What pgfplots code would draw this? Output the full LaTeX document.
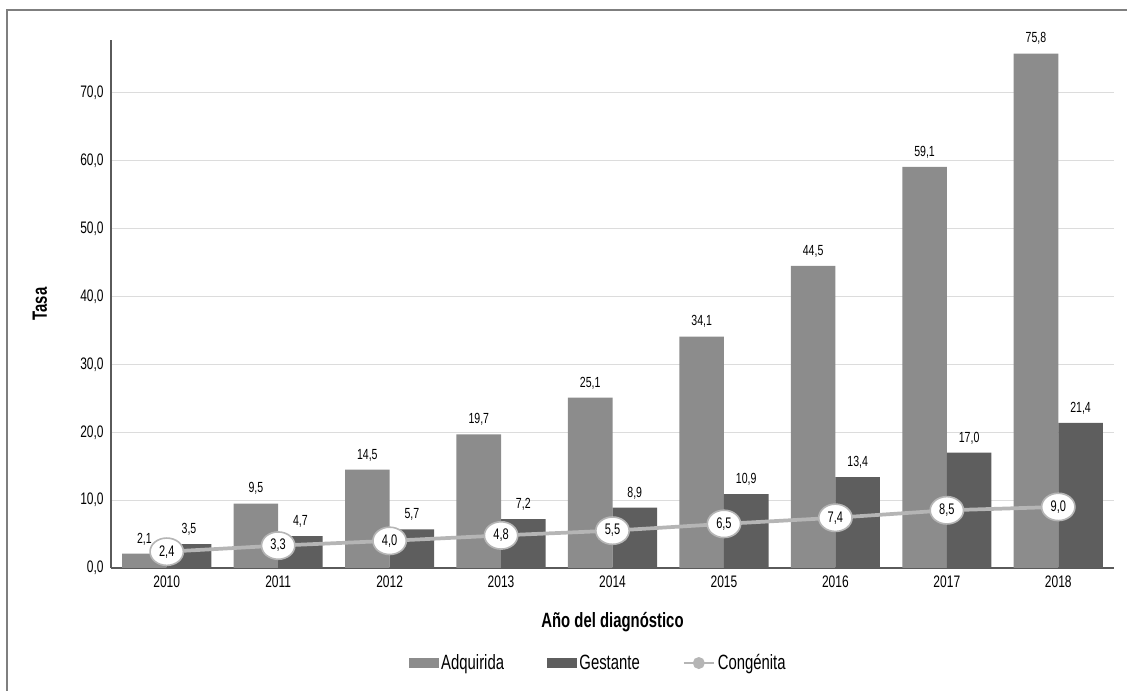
\documentclass[border=0pt]{standalone}
\usepackage{fontspec}
\setmainfont{Liberation Sans}[FakeStretch=0.72]
\usepackage{pgfplots}
\pgfplotsset{compat=1.18}
\usetikzlibrary{shapes.geometric}

\definecolor{adq}{HTML}{8C8C8C}
\definecolor{ges}{HTML}{5E5E5E}
\definecolor{con}{HTML}{B5B5B5}
\definecolor{gridc}{HTML}{DCDCDC}
\definecolor{axc}{HTML}{5A5A5A}
\definecolor{framec}{HTML}{7F7F7F}

\begin{document}
\begin{tikzpicture}
% page size 1127 x 691 px, 1 px = 0.75pt
\path[use as bounding box] (0pt,0pt) rectangle (845.25pt,518.25pt);
\draw[framec, line width=1.1pt] (5.25pt,0pt) -- (5.25pt,510.75pt) -- (845.25pt,510.75pt);
\begin{axis}[
    scale only axis,
    at={(83.25pt,92.25pt)}, anchor=south west,
    width=752.25pt, height=396pt,
    xmin=-0.5, xmax=8.5,
    ymin=0, ymax=77.8,
    clip=false,
    axis x line*=bottom, axis y line*=left,
    axis line style={axc, line width=0.8pt, -},
    major tick length=0pt,
    ymajorgrids, grid style={gridc, line width=0.8pt},
    xtick={0,...,8},
    xticklabels={2010,2011,2012,2013,2014,2015,2016,2017,2018},
    ytick={0,10,...,70},
    /pgf/number format/assume math mode=true,
    tick label style={font=\fontsize{12.5}{14}\selectfont, black},
    xticklabel style={yshift=-2pt},
    yticklabel style={/tikz/xshift=-2pt, /pgf/number format/.cd, fixed, fixed zerofill, precision=1, use comma},
    xlabel={\textbf{Año del diagnóstico}},
    ylabel={\textbf{Tasa}},
    label style={font=\fontsize{15.5}{17}\selectfont},
    xlabel style={yshift=-12pt},
    ylabel style={yshift=18pt},
    legend columns=3,
    legend style={draw=none, at={(0.486,-0.18)}, anchor=center,
        font=\fontsize{15.5}{17}\selectfont,
        /tikz/every even column/.append style={column sep=30pt}},
]
\addplot[ybar, bar width=0.4, bar shift=-0.2, fill=adq, draw=none,
    nodes near coords,
    every node near coord/.append style={font=\fontsize{11}{12}\selectfont, anchor=south,
        /tikz/yshift=3pt, /tikz/xshift=-16.7pt,
        /pgf/number format/.cd, fixed, fixed zerofill, precision=1, use comma},
    legend image code/.code={\fill[adq] (0pt,-3.75pt) rectangle (22.5pt,3.75pt);}]
coordinates {(0,2.1) (1,9.5) (2,14.5) (3,19.7) (4,25.1) (5,34.1) (6,44.5) (7,59.1) (8,75.8)};
\addlegendentry{Adquirida}
\addplot[ybar, bar width=0.4, bar shift=0.2, fill=ges, draw=none,
    nodes near coords,
    every node near coord/.append style={font=\fontsize{11}{12}\selectfont, anchor=south,
        /tikz/yshift=3pt, /tikz/xshift=16.7pt,
        /pgf/number format/.cd, fixed, fixed zerofill, precision=1, use comma},
    legend image code/.code={\fill[ges] (0pt,-3.75pt) rectangle (22.5pt,3.75pt);}]
coordinates {(0,3.5) (1,4.7) (2,5.7) (3,7.2) (4,8.9) (5,10.9) (6,13.4) (7,17.0) (8,21.4)};
\addlegendentry{Gestante}
\addplot[sharp plot, con, line width=2.8pt, mark=*, mark size=2.5pt,
    mark options={fill=con, draw=con},
    nodes near coords,
    every node near coord/.append style={anchor=center, ellipse, draw=con, line width=1.2pt,
        fill=white, text=black, inner sep=0pt, minimum width=25pt, minimum height=20.5pt,
        font=\fontsize{11.5}{12}\selectfont,
        /pgf/number format/.cd, fixed, fixed zerofill, precision=1, use comma},
    legend image code/.code={\draw[con, line width=2pt] (0pt,0pt) -- (22.5pt,0pt);
        \fill[con] (11.25pt,0pt) circle (3pt);}]
coordinates {(0,2.4) (1,3.3) (2,4.0) (3,4.8) (4,5.5) (5,6.5) (6,7.4) (7,8.5) (8,9.0)};
\addlegendentry{Congénita}
\end{axis}
\end{tikzpicture}
\end{document}
